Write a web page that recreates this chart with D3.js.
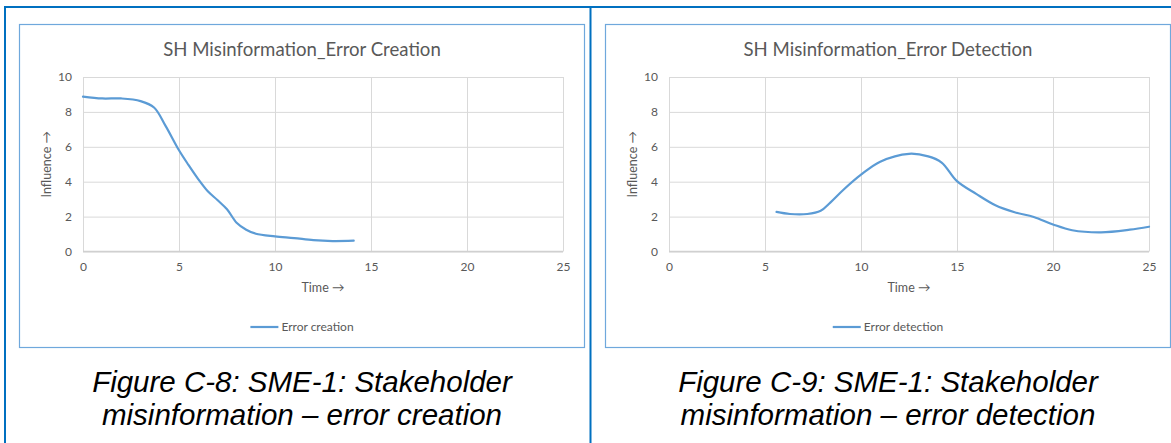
<!DOCTYPE html>
<html>
<head>
<meta charset="utf-8">
<script src="https://cdn.jsdelivr.net/npm/d3@7"></script>
<style>
  body { margin: 0; background: #fff; }
  svg { display: block; }
  .tick text { font-family: Lato, "Open Sans", sans-serif; font-size: 12px; fill: #595959; }
</style>
</head>
<body>
<svg id="fig" width="1171" height="443"></svg>
<script>
// values
const xTicks = [0, 5, 10, 15, 20, 25]
const yTicks = [0, 2, 4, 6, 8, 10]

const creationTime = [0, 1, 2, 3, 3.7, 4.3, 5, 5.5, 6, 6.5, 7, 7.5, 8, 8.5, 9, 10, 11, 12, 13, 14.1]
const creationInfluence = [8.88, 8.77, 8.77, 8.62, 8.25, 7.2, 5.8, 4.95, 4.15, 3.45, 2.95, 2.42, 1.65, 1.25, 1.02, 0.87, 0.77, 0.65, 0.6, 0.62]

const detectionTime = [5.6, 6.3, 7.2, 7.9, 8.4, 9.1, 10, 11, 12.5, 13.5, 14.2, 15, 16, 17, 18, 19, 20, 21, 22.5, 24, 25]
const detectionInfluence = [2.27, 2.15, 2.15, 2.33, 2.8, 3.55, 4.4, 5.15, 5.6, 5.45, 5.1, 4.03, 3.3, 2.65, 2.25, 1.98, 1.55, 1.22, 1.1, 1.25, 1.42]

const panels = [
  {offset: 0, title: "SH Misinformation_Error Creation", series: "Error creation",
   xs: creationTime, ys: creationInfluence,
   caption: ["Figure C-8: SME-1: Stakeholder", "misinformation \u2013 error creation"]},
  {offset: 586, title: "SH Misinformation_Error Detection", series: "Error detection",
   xs: detectionTime, ys: detectionInfluence,
   caption: ["Figure C-9: SME-1: Stakeholder", "misinformation \u2013 error detection"]}
]

const BOX = {x: 19.5, y: 24.5, w: 565, h: 323}
const PLOT = {left: 83, top: 77, right: 563, bottom: 251.5}
const LINE_COLOR = "#5b9bd5"
const TEXT_COLOR = "#595959"
const FONT = "Lato, 'Open Sans', sans-serif"

let svg = d3.select("#fig")

// outer table borders
svg.append("line").attr("x1", 4).attr("x2", 1171).attr("y1", 7).attr("y2", 7)
  .attr("stroke", "#0070c0").attr("stroke-width", 2)
svg.append("line").attr("x1", 5).attr("x2", 5).attr("y1", 6).attr("y2", 443)
  .attr("stroke", "#0070c0").attr("stroke-width", 2)
svg.append("line").attr("x1", 590.5).attr("x2", 590.5).attr("y1", 6).attr("y2", 443)
  .attr("stroke", "#0070c0").attr("stroke-width", 2)

panels.forEach(p => {
  let g = svg.append("g").attr("transform", `translate(${p.offset}, 0)`)

  g.append("rect")
    .attr("x", BOX.x).attr("y", BOX.y).attr("width", BOX.w).attr("height", BOX.h)
    .attr("fill", "#fff").attr("stroke", "#6fa8dc").attr("stroke-width", 1.2)

  let xScale = d3.scaleLinear().domain([0, 25]).range([PLOT.left, PLOT.right])
  let yScale = d3.scaleLinear().domain([0, 10]).range([PLOT.bottom, PLOT.top])

  // y gridlines + labels
  let yAxis = g.append("g")
    .attr("transform", `translate(${PLOT.left}, 0)`)
    .call(d3.axisLeft(yScale).tickValues(yTicks).tickSize(-(PLOT.right - PLOT.left)).tickPadding(11))
  yAxis.select(".domain").remove()
  yAxis.selectAll(".tick line").attr("stroke", "#d9d9d9").attr("stroke-width", 1)

  // x gridlines + labels
  let xAxis = g.append("g")
    .attr("transform", `translate(0, ${PLOT.bottom})`)
    .call(d3.axisBottom(xScale).tickValues(xTicks).tickSize(-(PLOT.bottom - PLOT.top)).tickPadding(11))
  xAxis.select(".domain").remove()
  xAxis.selectAll(".tick line").attr("stroke", "#d9d9d9").attr("stroke-width", 1)

  // category axis line a bit stronger
  g.append("line")
    .attr("x1", PLOT.left).attr("x2", PLOT.right)
    .attr("y1", PLOT.bottom).attr("y2", PLOT.bottom)
    .attr("stroke", "#d0d0d0").attr("stroke-width", 1.3)

  let pts = p.xs.map((x, i) => [x, p.ys[i]])
  g.append("path")
    .datum(pts)
    .attr("fill", "none")
    .attr("stroke", LINE_COLOR)
    .attr("stroke-width", 2.2)
    .attr("stroke-linecap", "round")
    .attr("d", d3.line()
      .x(d => xScale(d[0]))
      .y(d => yScale(d[1]))
      .curve(d3.curveCatmullRom.alpha(0.5)))

  // title
  g.append("text")
    .attr("x", BOX.x + BOX.w / 2).attr("y", 56)
    .attr("text-anchor", "middle")
    .attr("font-family", FONT).attr("font-size", 18.6)
    .attr("fill", TEXT_COLOR)
    .text(p.title)

  // axis titles
  g.append("text")
    .attr("transform", `translate(51, ${(PLOT.top + PLOT.bottom) / 2}) rotate(-90)`)
    .attr("text-anchor", "middle")
    .attr("font-family", FONT).attr("font-size", 12.5)
    .attr("fill", TEXT_COLOR)
    .text("Influence \u2192")

  g.append("text")
    .attr("x", (PLOT.left + PLOT.right) / 2).attr("y", 292)
    .attr("text-anchor", "middle")
    .attr("font-family", FONT).attr("font-size", 12.5)
    .attr("fill", TEXT_COLOR)
    .text("Time \u2192")

  // legend, centred in the chart box
  let leg = g.append("g")
  leg.append("line")
    .attr("x1", 0).attr("x2", 28).attr("y1", 0).attr("y2", 0)
    .attr("stroke", LINE_COLOR).attr("stroke-width", 2.2)
  let lt = leg.append("text")
    .attr("x", 31).attr("y", 4)
    .attr("font-family", FONT).attr("font-size", 12)
    .attr("fill", TEXT_COLOR)
    .text(p.series)
  let legW = 31 + lt.node().getComputedTextLength()
  leg.attr("transform", `translate(${BOX.x + BOX.w / 2 - legW / 2}, 327)`)

  // figure caption
  p.caption.forEach((c, i) => {
    g.append("text")
      .attr("x", BOX.x + BOX.w / 2).attr("y", 392 + i * 33)
      .attr("text-anchor", "middle")
      .attr("font-family", "'Liberation Sans', Arial, sans-serif")
      .attr("font-style", "italic")
      .attr("font-size", 29.5)
      .attr("fill", "#000")
      .text(c)
  })
})
</script>
</body>
</html>
